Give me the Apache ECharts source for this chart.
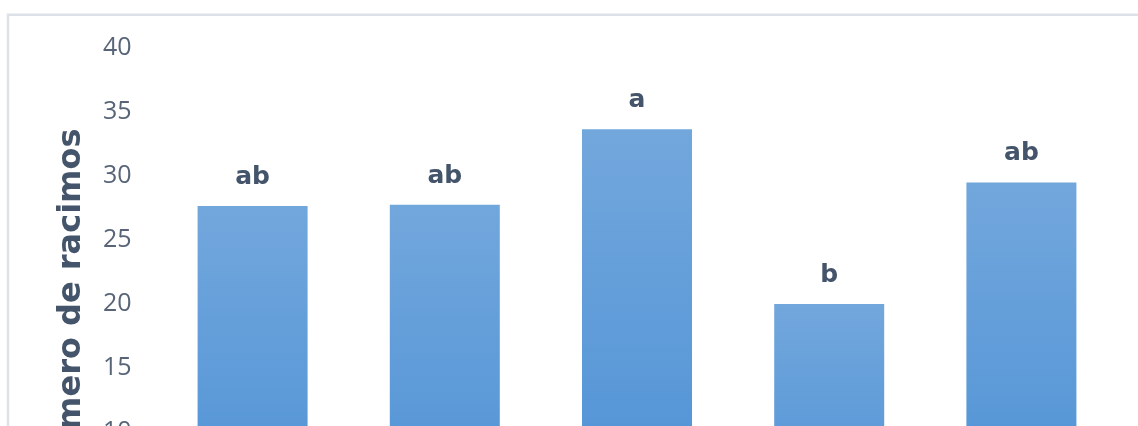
<!DOCTYPE html>
<html>
<head>
<meta charset="utf-8">
<style>
  html, body { margin: 0; padding: 0; width: 1138px; height: 426px; overflow: hidden; background: #fff; }
  #chart { width: 1138px; height: 700px; }
</style>
<script src="https://cdn.jsdelivr.net/npm/echarts@6/dist/echarts.min.js"></script>
</head>
<body>
<div id="chart"></div>
<script>
const categories = ['T1', 'T2', 'T3', 'T4', 'T5'];
const values = [27.65, 27.75, 33.65, 20.0, 29.5];
const letters = ['ab', 'ab', 'a', 'b', 'ab'];
const yTicks = { min: 0, max: 40, interval: 5 };
const axisTitle = 'Número de racimos';

const chart = echarts.init(document.getElementById('chart'), null, { renderer: 'canvas' });
chart.setOption({
  animation: false,
  backgroundColor: '#ffffff',
  grid: { left: 156.5, right: 20.5, top: 48, bottom: 140, containLabel: false },
  xAxis: {
    type: 'category',
    data: categories,
    axisLine: { show: false },
    axisTick: { show: false },
    axisLabel: { show: false },
    splitLine: { show: false }
  },
  yAxis: {
    type: 'value',
    min: yTicks.min,
    max: yTicks.max,
    interval: yTicks.interval,
    axisLine: { show: false },
    axisTick: { show: false },
    splitLine: { show: false },
    axisLabel: {
      margin: 25,
      color: '#586579',
      fontFamily: 'Open Sans',
      fontSize: 25
    },
    name: axisTitle,
    nameLocation: 'middle',
    nameRotate: 90,
    nameGap: 69,
    nameTextStyle: {
      color: '#44546a',
      fontFamily: 'DejaVu Sans',
      fontWeight: 'bold',
      fontSize: 32
    }
  },
  graphic: [
    {
      type: 'rect',
      shape: { x: 8, y: 14.7, width: 1400, height: 900 },
      style: { fill: 'none', stroke: '#dde1e8', lineWidth: 2.5 },
      silent: true
    }
  ],
  series: [{
    type: 'bar',
    data: values,
    barWidth: 110,
    itemStyle: {
      color: new echarts.graphic.LinearGradient(0, 0, 0, 1, [
        { offset: 0, color: '#72a7dc' },
        { offset: 1, color: '#4a8fd5' }
      ])
    },
    label: {
      show: true,
      position: 'top',
      distance: 16,
      formatter: (p) => letters[p.dataIndex],
      color: '#44546a',
      fontFamily: 'DejaVu Sans',
      fontWeight: 'bold',
      fontSize: 25
    }
  }]
});
</script>
</body>
</html>
